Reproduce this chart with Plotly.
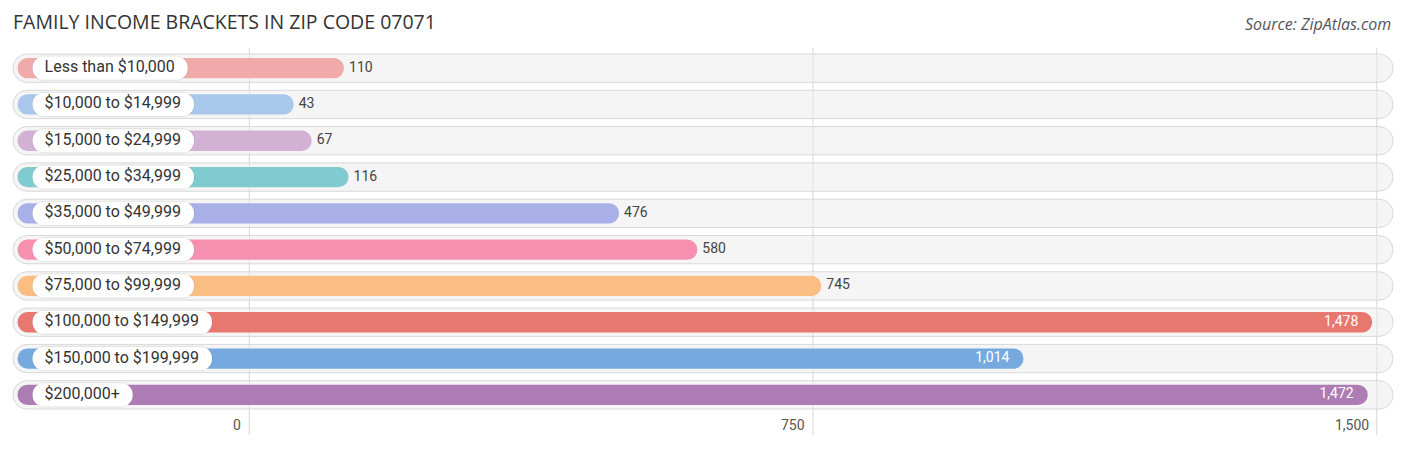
import plotly.graph_objects as go

# data
brackets = ["Less than $10,000", "$10,000 to $14,999", "$15,000 to $24,999",
            "$25,000 to $34,999", "$35,000 to $49,999", "$50,000 to $74,999",
            "$75,000 to $99,999", "$100,000 to $149,999", "$150,000 to $199,999",
            "$200,000+"]
families = [110, 43, 67, 116, 476, 580, 745, 1478, 1014, 1472]
colors = ["#f0aaa9", "#a9c7eb", "#d3b1d4", "#7fcbd0", "#a9b0e8",
          "#f590b1", "#fbbe82", "#e8776f", "#76aadf", "#ae7cb4"]
tick_vals = [0, 750, 1500]
tick_text = ["0", "750", "1,500"]

# layout helpers (pixels per data unit etc.)
PX = 0.7516
X_MIN, X_MAX = -318.4, 1525.6
TRACK_L, TRACK_R = -314.4, 1521.6
BAR_L = -308.4
PILL_L = -288.4
PAD = 16

# page body has an 8px margin, so the figure is drawn 16px smaller
W, H = 1390, 434

# rough Roboto glyph widths (em) to size the label pills
cw = {",": 0.196, " ": 0.248, "t": 0.327, "o": 0.57, "L": 0.538, "e": 0.53,
      "s": 0.515, "h": 0.551, "a": 0.544, "n": 0.552, "+": 0.567}
def text_px(s, size=16):
    return sum(cw.get(c, 0.562) for c in s) * size

pill_w = [(text_px(b) + 25) / PX for b in brackets]

fig = go.Figure()

# background tracks
fig.add_trace(go.Bar(
    y=brackets, x=[TRACK_R - TRACK_L] * len(brackets), base=TRACK_L,
    orientation="h", width=0.78,
    marker=dict(color="rgba(236,236,236,0.5)", line=dict(color="#d8d8d8", width=1),
                cornerradius=14),
    hoverinfo="skip", showlegend=False))

# value bars
fig.add_trace(go.Bar(
    y=brackets, x=[v - BAR_L + PAD for v in families], base=BAR_L,
    orientation="h", width=0.56,
    marker=dict(color=colors, line=dict(width=0), cornerradius=10),
    hoverinfo="skip", showlegend=False))

# pill shadow + white label pills
fig.add_trace(go.Bar(
    y=brackets, x=[w + 2 for w in pill_w], base=PILL_L - 1,
    orientation="h", width=0.7,
    marker=dict(color="rgba(0,0,0,0.07)", line=dict(width=0), cornerradius=13),
    hoverinfo="skip", showlegend=False))
fig.add_trace(go.Bar(
    y=brackets, x=pill_w, base=PILL_L,
    orientation="h", width=0.64,
    marker=dict(color="white", line=dict(width=0), cornerradius=12),
    hoverinfo="skip", showlegend=False))

fig.add_trace(go.Scatter(
    y=brackets, x=[PILL_L + 12 / PX] * len(brackets), mode="text",
    text=brackets, textposition="middle right",
    textfont=dict(family="Roboto", size=16, color="#333333"),
    hoverinfo="skip", showlegend=False))

# value labels: outside for short bars, inside (white) for long ones
inside = [v > 900 for v in families]
fig.add_trace(go.Scatter(
    y=[b for b, i in zip(brackets, inside) if not i],
    x=[v + PAD + 5 / PX for v, i in zip(families, inside) if not i],
    mode="text", text=[f"{v:,}" for v, i in zip(families, inside) if not i],
    textposition="middle right",
    textfont=dict(family="Roboto", size=14, color="#444444"),
    hoverinfo="skip", showlegend=False))
fig.add_trace(go.Scatter(
    y=[b for b, i in zip(brackets, inside) if i],
    x=[v + PAD - 14 / PX for v, i in zip(families, inside) if i],
    mode="text", text=[f"{v:,}" for v, i in zip(families, inside) if i],
    textposition="middle left",
    textfont=dict(family="Roboto", size=14, color="white"),
    hoverinfo="skip", showlegend=False))

# grid lines and tick labels
for tv, tt in zip(tick_vals, tick_text):
    fig.add_shape(type="line", xref="x", yref="paper", x0=tv, x1=tv, y0=-0.061, y1=1.005,
                  line=dict(color="#d6d6d6", width=1), layer="below")
    fig.add_annotation(x=tv, y=-0.033, xref="x", yref="paper", text=tt, showarrow=False,
                       xanchor="right", yanchor="middle", xshift=-6,
                       font=dict(family="Roboto", size=14, color="#555555"))

fig.add_annotation(x=1, y=1.071, xref="paper", yref="paper", xshift=-3,
                   text="<i>Source: ZipAtlas.com</i>", showarrow=False,
                   xanchor="right", yanchor="middle",
                   font=dict(family="Open Sans", size=16, color="#555555"))

fig.update_layout(
    width=W, height=H,
    margin=dict(l=2, r=2, t=42, b=29),
    paper_bgcolor="white", plot_bgcolor="white",
    barmode="overlay",
    title=dict(text="FAMILY INCOME BRACKETS IN ZIP CODE 07071", x=5 / W, xanchor="left",
               xref="container", y=1 - 14 / H, yanchor="middle", yref="container",
               font=dict(family="Open Sans", size=19.5, color="#333333")),
    xaxis=dict(range=[X_MIN, X_MAX], showgrid=False, zeroline=False, showticklabels=False,
               fixedrange=True),
    yaxis=dict(autorange="reversed", showgrid=False, zeroline=False, showticklabels=False,
               fixedrange=True),
)

fig.write_html("out.html")
